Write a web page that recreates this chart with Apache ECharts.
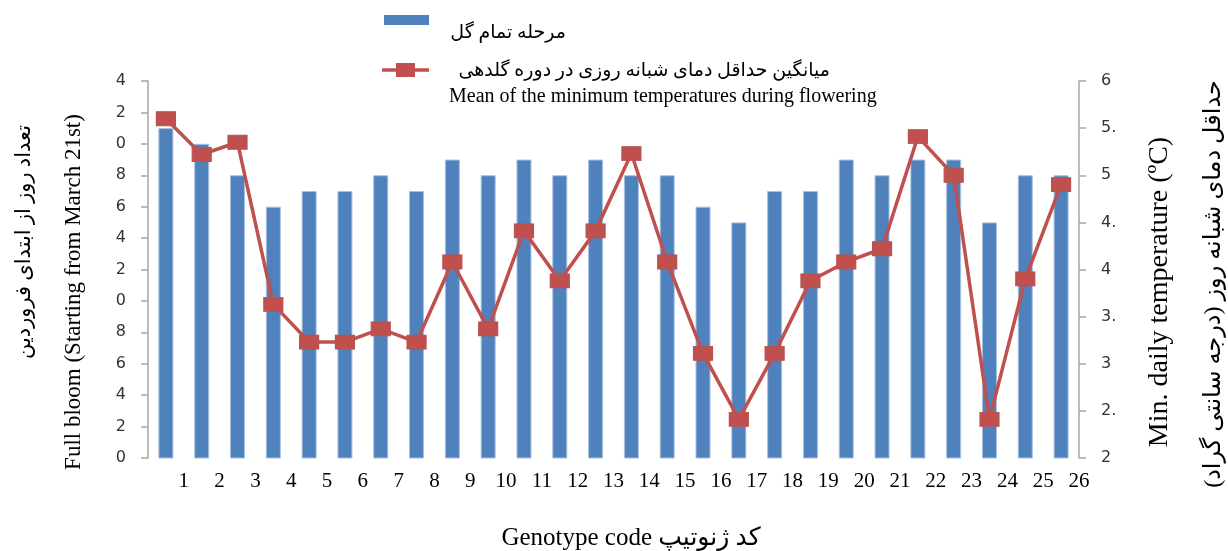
<!DOCTYPE html>
<html>
<head>
<meta charset="utf-8">
<script src="https://cdn.jsdelivr.net/npm/echarts@6/dist/echarts.min.js"></script>
<style>
html,body{margin:0;padding:0;background:#fff;}
#chart{width:1228px;height:551px;}
</style>
</head>
<body>
<div id="chart"></div>
<script>
// Genotype codes
const categories = ['1','2','3','4','5','6','7','8','9','10','11','12','13','14','15','16','17','18','19','20','21','22','23','24','25','26'];
// Full bloom: days from March 21st (left axis)
const fullBloomDays = [101,100,98,96,97,97,98,97,99,98,99,98,99,98,98,96,95,97,97,99,98,99,99,95,98,98];
// Mean of minimum temperatures during flowering (right axis, °C)
const minTemps = [5.60,5.22,5.35,3.63,3.23,3.23,3.37,3.23,4.08,3.37,4.41,3.88,4.41,5.23,4.08,3.11,2.41,3.11,3.88,4.08,4.22,5.41,5.00,2.41,3.90,4.90];

const barName = 'مرحله تمام گل';
const lineName = 'میانگین حداقل دمای شبانه روزی در دوره گلدهی';
const lineNameEn = 'Mean of the minimum temperatures during flowering';
const leftTitleFa = 'تعداد روز از ابتدای فروردین';
const leftTitleEn = 'Full bloom (Starting from March 21st)';
const rightTitleEn = 'Min. daily temperature (ºC)';
const rightTitleFa = 'حداقل دمای شبانه روز (درجه سانتی گراد)';
const xTitle = 'Genotype code کد ژنوتیپ';

const SERIF = '"Liberation Serif","DejaVu Serif","DejaVu Sans",serif';
const SANS = '"DejaVu Sans",sans-serif';
const AXIS_GREY = '#A6A6A6';

const chart = echarts.init(document.getElementById('chart'), null, {renderer:'canvas'});
chart.setOption({
  animation:false,
  backgroundColor:'#fff',
  grid:{left:148, right:149, top:81, bottom:93, containLabel:false},
  xAxis:[
    {type:'category', data:categories, boundaryGap:true,
     axisLine:{show:false}, axisTick:{show:false}, axisLabel:{show:false}},
    {type:'value', min:0, max:26, interval:1, position:'bottom',
     axisLine:{show:false}, axisTick:{show:false}, splitLine:{show:false},
     axisLabel:{show:true, margin:13, fontFamily:SERIF, fontSize:21, color:'#000',
       formatter:v => v===0 ? '' : String(v)}}
  ],
  yAxis:[
    {type:'value', min:80, max:104, interval:2, position:'left',
     axisLine:{show:true, lineStyle:{color:AXIS_GREY, width:1.5}},
     axisTick:{show:true, length:7, inside:false, lineStyle:{color:AXIS_GREY, width:1.5}},
     splitLine:{show:false},
     axisLabel:{margin:22, fontFamily:SANS, fontSize:16, color:'#333',
       formatter:v => String(Math.round(v) % 10)}},
    {type:'value', min:2, max:6, interval:0.5, position:'right',
     axisLine:{show:true, lineStyle:{color:AXIS_GREY, width:1.5}},
     axisTick:{show:true, length:7, inside:false, lineStyle:{color:AXIS_GREY, width:1.5}},
     splitLine:{show:false},
     axisLabel:{margin:22, fontFamily:SANS, fontSize:16, color:'#333',
       width:24, overflow:'truncate', ellipsis:'',
       formatter:v => String(v)}}
  ],
  series:[
    {name:barName, type:'bar', xAxisIndex:0, yAxisIndex:0, data:fullBloomDays,
     barWidth:15,
     itemStyle:{color:'#4F81BD', borderColor:'#A7C0DE', borderWidth:1}},
    {name:lineName, type:'line', xAxisIndex:0, yAxisIndex:1, data:minTemps,
     symbol:'rect', symbolSize:[19,14], showSymbol:true,
     lineStyle:{color:'#C0504D', width:3.5},
     itemStyle:{color:'#C0504D', borderColor:'#B9514E', borderWidth:1}}
  ],
  graphic:[
    // legend
    {type:'rect', shape:{x:384, y:15, width:45, height:10}, style:{fill:'#4F81BD'}},
    {type:'text', x:566, y:33, style:{text:barName, font:'19px '+SERIF, fill:'#000', textAlign:'right', textVerticalAlign:'middle'}},
    {type:'line', shape:{x1:382, y1:70, x2:429, y2:70}, style:{stroke:'#C0504D', lineWidth:3.5}},
    {type:'rect', shape:{x:396, y:63, width:19, height:14}, style:{fill:'#C0504D'}},
    {type:'text', x:830, y:71, style:{text:lineName, font:'19px '+SERIF, fill:'#000', textAlign:'right', textVerticalAlign:'middle'}},
    {type:'text', x:449, y:97, style:{text:lineNameEn, font:'20px '+SERIF, fill:'#000', textAlign:'left', textVerticalAlign:'middle'}},
    // left axis titles
    {type:'text', x:24, y:242, rotation:Math.PI/2, style:{text:leftTitleFa, font:'21px '+SERIF, fill:'#000', textAlign:'center', textVerticalAlign:'middle'}},
    {type:'text', x:74, y:292, rotation:Math.PI/2, style:{text:leftTitleEn, font:'23px '+SERIF, fill:'#000', textAlign:'center', textVerticalAlign:'middle'}},
    // right axis titles
    {type:'text', x:1160, y:292, rotation:Math.PI/2, style:{text:rightTitleEn, font:'28px '+SERIF, fill:'#000', textAlign:'center', textVerticalAlign:'middle'}},
    {type:'text', x:1214, y:284, rotation:Math.PI/2, style:{text:rightTitleFa, font:'24px '+SERIF, fill:'#000', textAlign:'center', textVerticalAlign:'middle'}},
    // x axis title
    {type:'text', x:631, y:538, style:{text:xTitle, font:'25px '+SERIF, fill:'#000', textAlign:'center', textVerticalAlign:'middle'}}
  ]
});
</script>
</body>
</html>
